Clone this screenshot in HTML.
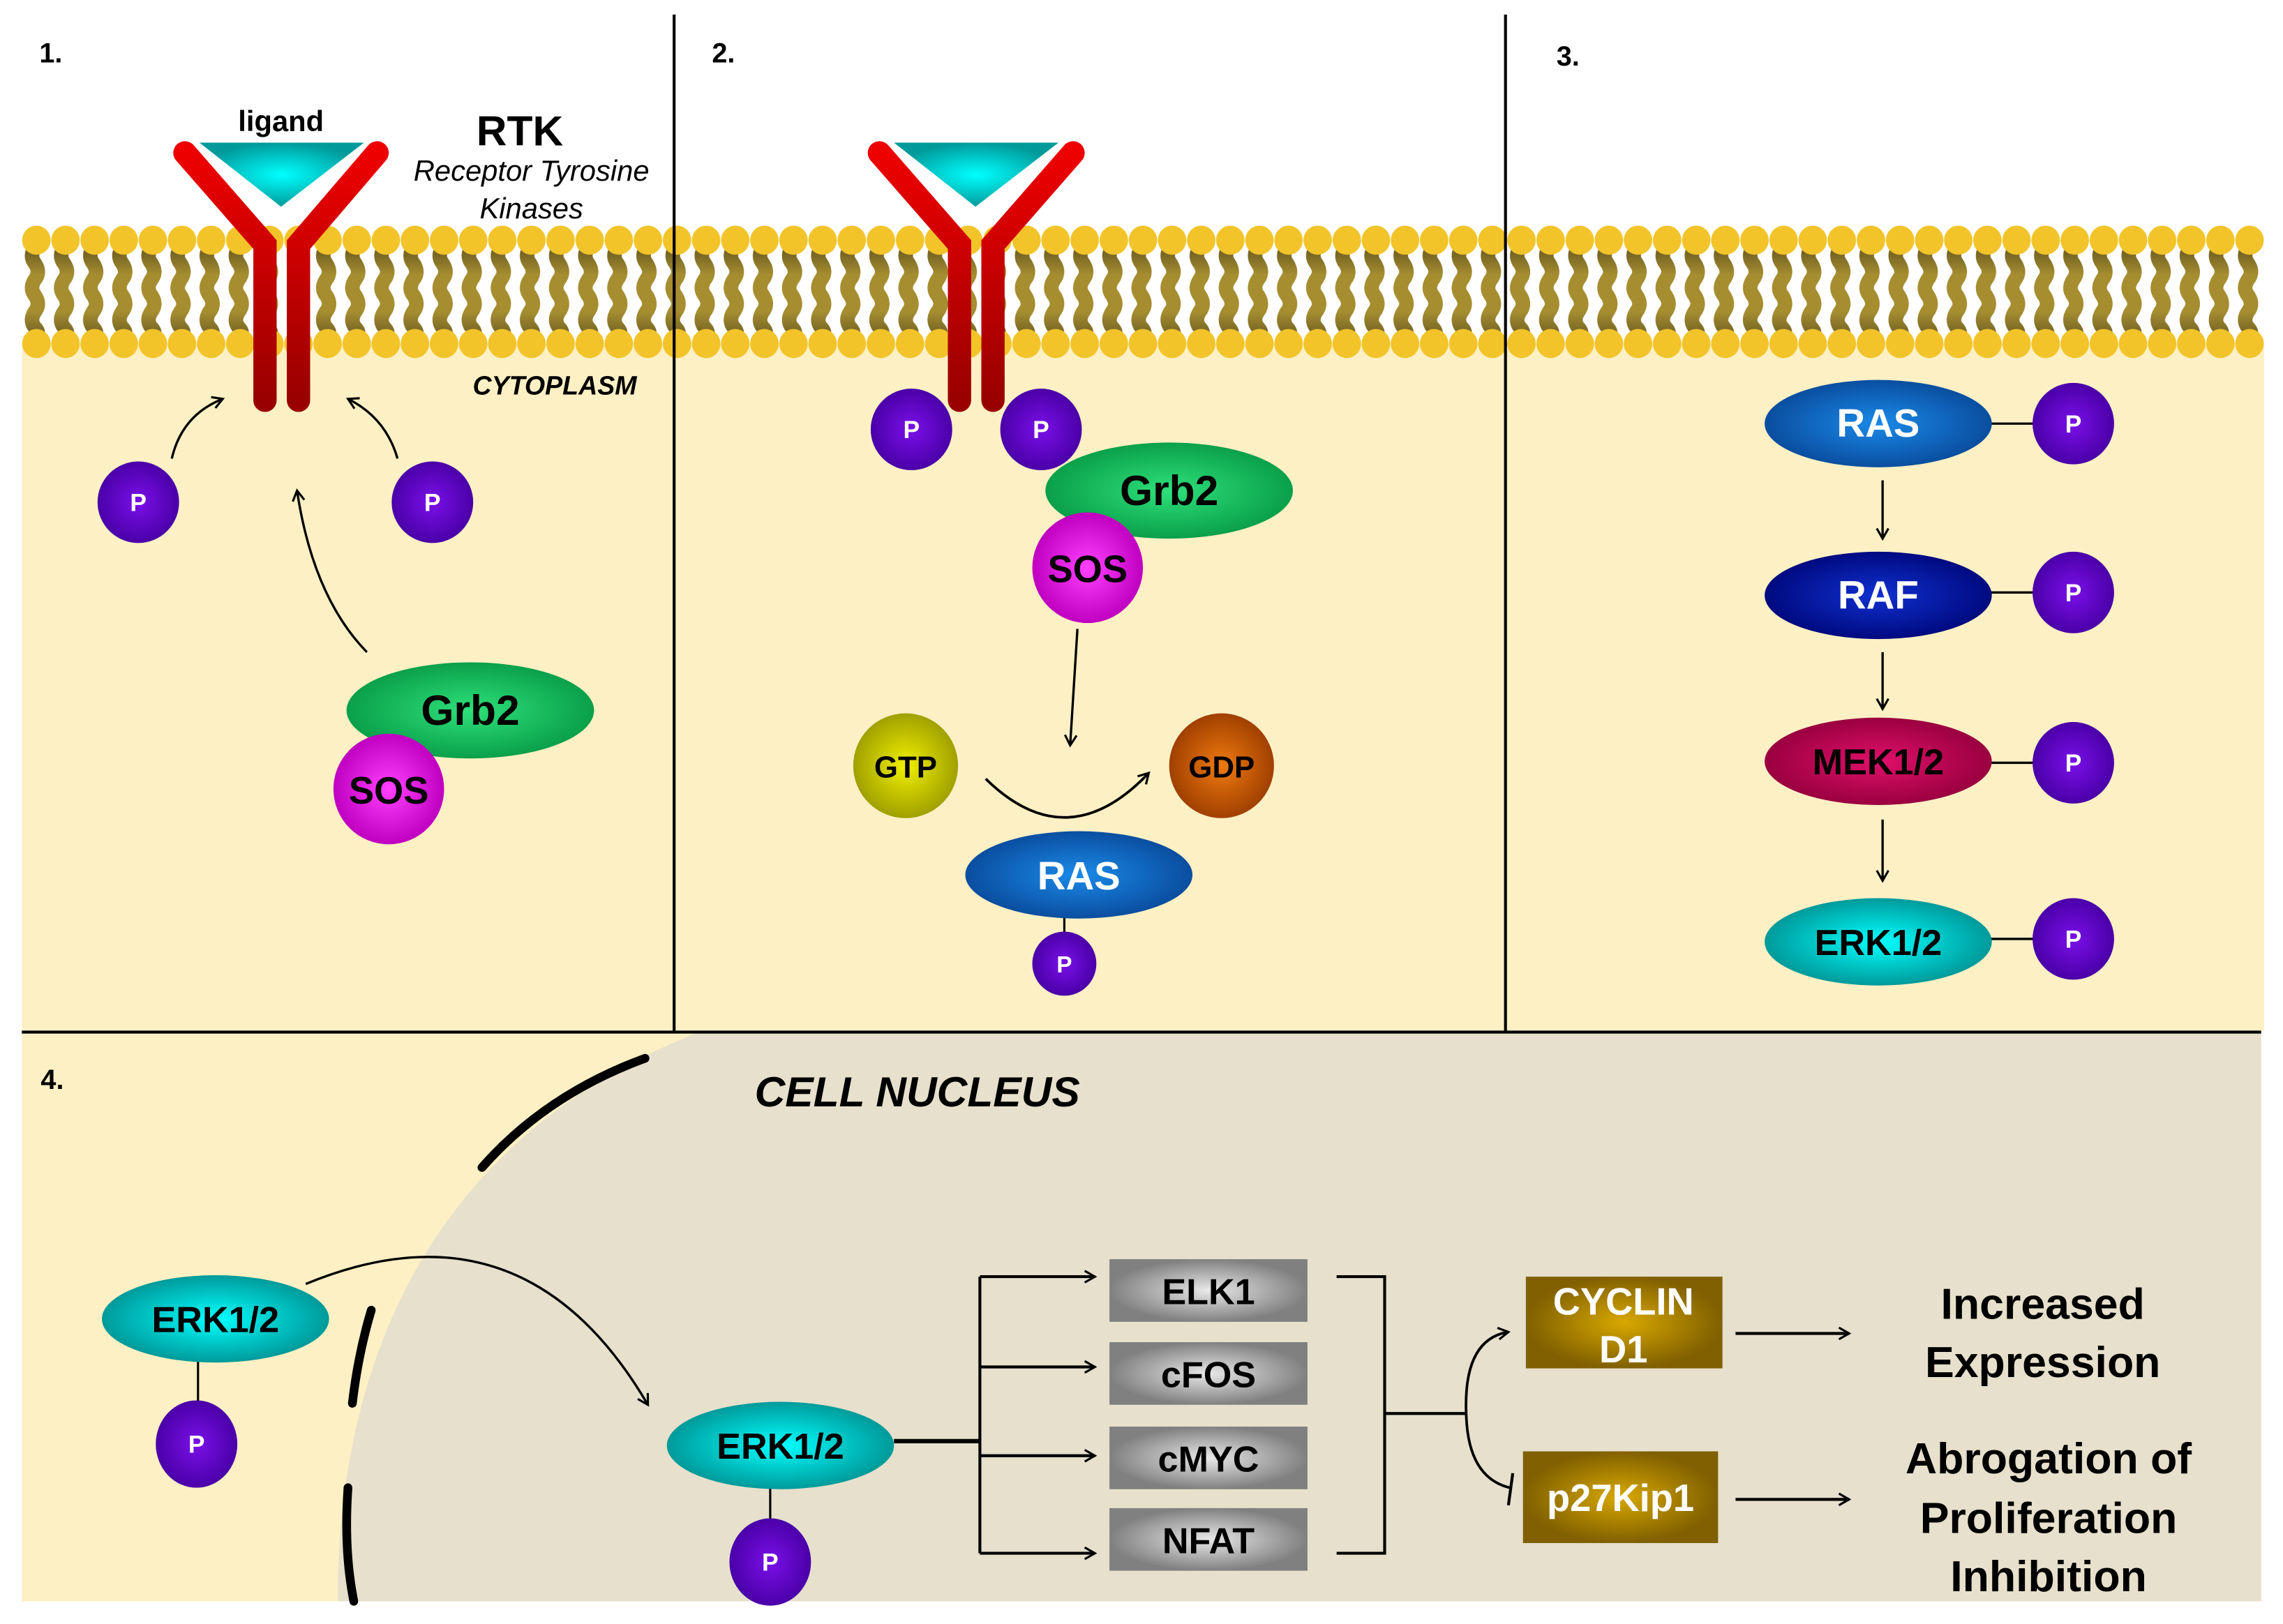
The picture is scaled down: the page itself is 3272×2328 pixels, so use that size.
<!DOCTYPE html>
<html><head><meta charset="utf-8"><style>html,body{margin:0;padding:0;background:#fff}svg{display:block}</style></head><body>
<svg xmlns="http://www.w3.org/2000/svg" width="3272" height="2328" viewBox="0 0 1568 1115.6" preserveAspectRatio="none" font-family="Liberation Sans, sans-serif">
<defs>
<radialGradient id="gP"><stop offset="0" stop-color="#7a10e8"/><stop offset="1" stop-color="#4a00a8"/></radialGradient>
<radialGradient id="gTeal"><stop offset="0" stop-color="#00ffff"/><stop offset="1" stop-color="#009a9a"/></radialGradient>
<radialGradient id="gGrn"><stop offset="0" stop-color="#2ee07a"/><stop offset="1" stop-color="#0aa04a"/></radialGradient>
<radialGradient id="gSos"><stop offset="0" stop-color="#ff40ff"/><stop offset="1" stop-color="#c000c0"/></radialGradient>
<radialGradient id="gBlue"><stop offset="0" stop-color="#1a8ae8"/><stop offset="1" stop-color="#0a4ea0"/></radialGradient>
<radialGradient id="gNavy"><stop offset="0" stop-color="#1030d0"/><stop offset="1" stop-color="#000a80"/></radialGradient>
<radialGradient id="gMek"><stop offset="0" stop-color="#e0106a"/><stop offset="1" stop-color="#9a0040"/></radialGradient>
<radialGradient id="gGtp"><stop offset="0" stop-color="#f0f000"/><stop offset="1" stop-color="#a0a000"/></radialGradient>
<radialGradient id="gGdp"><stop offset="0" stop-color="#f07a10"/><stop offset="1" stop-color="#a04000"/></radialGradient>
<radialGradient id="gGrey"><stop offset="0" stop-color="#e8e8e8"/><stop offset="1" stop-color="#808080"/></radialGradient>
<radialGradient id="gGold"><stop offset="0" stop-color="#d8a800"/><stop offset="1" stop-color="#806000"/></radialGradient>
<linearGradient id="gRed" x1="0" y1="0" x2="0" y2="1"><stop offset="0" stop-color="#ee0000"/><stop offset="1" stop-color="#990000"/></linearGradient>
<linearGradient id="gTail" x1="0" y1="0" x2="0" y2="1"><stop offset="0" stop-color="#6a5a20"/><stop offset="0.3" stop-color="#a58d30"/><stop offset="0.7" stop-color="#a58d30"/><stop offset="1" stop-color="#6a5a20"/></linearGradient>
<pattern id="mem" patternUnits="userSpaceOnUse" x="15" y="0" width="20" height="260">
<path d="M9 170 q-4 6 0 11 q4 6 0 11 q-4 6 0 11 q4 6 0 11 q-4 6 0 11 q4 4 0 8" fill="none" stroke="url(#gTail)" stroke-width="10"/>
<ellipse cx="10" cy="165" rx="9.8" ry="10" fill="#f2c42a"/>
<ellipse cx="10" cy="236" rx="9.8" ry="10" fill="#f2c42a"/>
</pattern>
<marker id="ar" markerWidth="10" markerHeight="10" refX="8" refY="5" orient="auto" markerUnits="userSpaceOnUse"><path d="M1 1 L8 5 L1 9" fill="none" stroke="#000" stroke-width="1.5"/></marker>
</defs>
<rect width="1568" height="1115.6" fill="#fff"/>
<rect x="15" y="236" width="1540" height="472" fill="#fdf0c4"/>
<rect x="15" y="709" width="1538" height="391" fill="#fdf0c4"/>
<path d="M480 709 C300 780 232 930 232 1100 L1553 1100 L1553 709 Z" fill="#e6e0cc"/>
<rect x="15" y="150" width="1540" height="100" fill="url(#mem)"/>
<line x1="463" y1="10" x2="463" y2="709" stroke="#000" stroke-width="2"/>
<line x1="1034" y1="10" x2="1034" y2="709" stroke="#000" stroke-width="2"/>
<line x1="15" y1="709" x2="1553" y2="709" stroke="#000" stroke-width="2"/>

<g font-weight="bold" font-size="19" fill="#000">
<text x="27" y="43">1.</text><text x="489" y="43">2.</text><text x="1069" y="45">3.</text><text x="28" y="748">4.</text>
</g>

<g stroke="url(#gRed)" stroke-width="16" stroke-linecap="round" fill="none">
<path d="M127 105 L182 168 L182 275"/><path d="M259 105 L205 168 L205 275"/>
</g>
<path d="M137 98 L250 98 L193 142 Z" fill="url(#gTeal)"/>
<text x="193" y="90" font-size="20" font-weight="bold" text-anchor="middle">ligand</text>
<text x="357" y="100" font-size="29" font-weight="bold" text-anchor="middle">RTK</text>
<text x="365" y="124" font-size="20" font-style="italic" text-anchor="middle">Receptor Tyrosine</text>
<text x="365" y="150" font-size="20" font-style="italic" text-anchor="middle">Kinases</text>
<text x="381" y="271" font-size="18" font-weight="bold" font-style="italic" text-anchor="middle">CYTOPLASM</text>
<g fill="none" stroke="#000" stroke-width="1.6" marker-end="url(#ar)">
<path d="M118 315 Q125 285 153 274"/><path d="M273 315 Q265 287 239 274"/><path d="M252 448 Q215 410 204 337"/>
</g>
<g font-weight="bold" fill="#fff" font-size="17" text-anchor="middle">
<circle cx="95" cy="345" r="28" fill="url(#gP)"/><text x="95" y="351">P</text>
<circle cx="297" cy="345" r="28" fill="url(#gP)"/><text x="297" y="351">P</text>
</g>
<ellipse cx="323" cy="488" rx="85" ry="33" fill="url(#gGrn)"/>
<text x="323" y="498" font-size="29" font-weight="bold" text-anchor="middle">Grb2</text>
<circle cx="267" cy="542" r="38" fill="url(#gSos)"/>
<text x="267" y="552" font-size="26" font-weight="bold" text-anchor="middle">SOS</text>

<g stroke="url(#gRed)" stroke-width="16" stroke-linecap="round" fill="none">
<path d="M604 105 L659 168 L659 275"/><path d="M737 105 L682 168 L682 275"/>
</g>
<path d="M614 98 L727 98 L670 142 Z" fill="url(#gTeal)"/>
<g font-weight="bold" fill="#fff" font-size="17" text-anchor="middle">
<circle cx="626" cy="295" r="28" fill="url(#gP)"/><text x="626" y="301">P</text>
<circle cx="715" cy="295" r="28" fill="url(#gP)"/><text x="715" y="301">P</text>
</g>
<ellipse cx="803" cy="337" rx="85" ry="33" fill="url(#gGrn)"/>
<text x="803" y="347" font-size="29" font-weight="bold" text-anchor="middle">Grb2</text>
<circle cx="747" cy="390" r="38" fill="url(#gSos)"/>
<text x="747" y="400" font-size="26" font-weight="bold" text-anchor="middle">SOS</text>
<path d="M740 432 L735 512" stroke="#000" stroke-width="1.6" fill="none" marker-end="url(#ar)"/>
<circle cx="622" cy="526" r="36" fill="url(#gGtp)"/>
<text x="622" y="534" font-size="21" font-weight="bold" text-anchor="middle">GTP</text>
<circle cx="839" cy="526" r="36" fill="url(#gGdp)"/>
<text x="839" y="534" font-size="21" font-weight="bold" text-anchor="middle">GDP</text>
<path d="M677 535 Q733 590 789 531" stroke="#000" stroke-width="1.8" fill="none" marker-end="url(#ar)"/>
<line x1="731" y1="620" x2="731" y2="645" stroke="#000" stroke-width="1.5"/>
<ellipse cx="741" cy="601" rx="78" ry="30" fill="url(#gBlue)"/>
<text x="741" y="611" font-size="27" font-weight="bold" fill="#fff" text-anchor="middle">RAS</text>
<circle cx="731" cy="662" r="22" fill="url(#gP)"/><text x="731" y="668" font-size="16" font-weight="bold" fill="#fff" text-anchor="middle">P</text>

<g stroke="#000" stroke-width="1.6">
<line x1="1360" y1="291" x2="1400" y2="291"/><line x1="1360" y1="407" x2="1400" y2="407"/>
<line x1="1360" y1="524" x2="1400" y2="524"/><line x1="1360" y1="645" x2="1400" y2="645"/>
</g>
<g stroke="#000" stroke-width="1.6" marker-end="url(#ar)">
<line x1="1293" y1="330" x2="1293" y2="370"/><line x1="1293" y1="448" x2="1293" y2="487"/><line x1="1293" y1="563" x2="1293" y2="605"/>
</g>
<g font-size="27" font-weight="bold" text-anchor="middle">
<ellipse cx="1290" cy="291" rx="78" ry="30" fill="url(#gBlue)"/><text x="1290" y="300" fill="#fff">RAS</text>
<ellipse cx="1290" cy="409" rx="78" ry="30" fill="url(#gNavy)"/><text x="1290" y="418" fill="#fff">RAF</text>
<ellipse cx="1290" cy="523" rx="78" ry="30" fill="url(#gMek)"/><text x="1290" y="532" fill="#000" font-size="25">MEK1/2</text>
<ellipse cx="1290" cy="647" rx="78" ry="30" fill="url(#gTeal)"/><text x="1290" y="656" fill="#000" font-size="25">ERK1/2</text>
</g>
<g font-weight="bold" fill="#fff" font-size="17" text-anchor="middle">
<circle cx="1424" cy="291" r="28" fill="url(#gP)"/><text x="1424" y="297">P</text>
<circle cx="1424" cy="407" r="28" fill="url(#gP)"/><text x="1424" y="413">P</text>
<circle cx="1424" cy="524" r="28" fill="url(#gP)"/><text x="1424" y="530">P</text>
<circle cx="1424" cy="645" r="28" fill="url(#gP)"/><text x="1424" y="651">P</text>
</g>

<g fill="none" stroke="#000" stroke-width="6" stroke-linecap="round">
<path d="M331 802 Q375 752 443 727"/><path d="M255 900 Q246 930 242 964"/><path d="M239 1022 Q236 1065 243 1100"/>
</g>
<text x="630" y="760" font-size="29" font-weight="bold" font-style="italic" text-anchor="middle">CELL NUCLEUS</text>
<line x1="136" y1="930" x2="136" y2="970" stroke="#000" stroke-width="1.5"/>
<ellipse cx="148" cy="906" rx="78" ry="30" fill="url(#gTeal)"/>
<text x="148" y="915" font-size="25" font-weight="bold" text-anchor="middle">ERK1/2</text>
<ellipse cx="135" cy="992" rx="28" ry="30" fill="url(#gP)"/><text x="135" y="998" font-size="17" font-weight="bold" fill="#fff" text-anchor="middle">P</text>
<path d="M210 882 Q360 820 445 965" fill="none" stroke="#000" stroke-width="1.6" marker-end="url(#ar)"/>
<line x1="529" y1="1015" x2="529" y2="1050" stroke="#000" stroke-width="1.5"/>
<ellipse cx="536" cy="993" rx="78" ry="30" fill="url(#gTeal)"/>
<text x="536" y="1002" font-size="25" font-weight="bold" text-anchor="middle">ERK1/2</text>
<ellipse cx="529" cy="1073" rx="28" ry="30" fill="url(#gP)"/><text x="529" y="1079" font-size="17" font-weight="bold" fill="#fff" text-anchor="middle">P</text>
<line x1="614" y1="990" x2="673" y2="990" stroke="#000" stroke-width="3"/>
<line x1="673" y1="877" x2="673" y2="1067" stroke="#000" stroke-width="2"/>
<g stroke="#000" stroke-width="2" marker-end="url(#ar)">
<line x1="673" y1="877" x2="752" y2="877"/><line x1="673" y1="939" x2="752" y2="939"/><line x1="673" y1="1000" x2="752" y2="1000"/><line x1="673" y1="1067" x2="752" y2="1067"/>
</g>
<g font-size="25" font-weight="bold" text-anchor="middle">
<rect x="762" y="865" width="136" height="43" fill="url(#gGrey)"/><text x="830" y="896">ELK1</text>
<rect x="762" y="922" width="136" height="43" fill="url(#gGrey)"/><text x="830" y="953">cFOS</text>
<rect x="762" y="980" width="136" height="43" fill="url(#gGrey)"/><text x="830" y="1011">cMYC</text>
<rect x="762" y="1036" width="136" height="43" fill="url(#gGrey)"/><text x="830" y="1067">NFAT</text>
</g>
<path d="M918 877 L951 877 L951 1067 L918 1067" fill="none" stroke="#000" stroke-width="2"/>
<line x1="951" y1="971" x2="1007" y2="971" stroke="#000" stroke-width="2"/>
<path d="M1007 971 Q1005 920 1036 915" fill="none" stroke="#000" stroke-width="1.8" marker-end="url(#ar)"/>
<path d="M1007 971 Q1008 1015 1037 1022" fill="none" stroke="#000" stroke-width="1.8"/>
<line x1="1039" y1="1012" x2="1036" y2="1034" stroke="#000" stroke-width="2"/>
<rect x="1048" y="877" width="135" height="63" fill="url(#gGold)"/>
<text x="1115" y="903" font-size="26" font-weight="bold" fill="#fff" text-anchor="middle">CYCLIN</text>
<text x="1115" y="936" font-size="26" font-weight="bold" fill="#fff" text-anchor="middle">D1</text>
<rect x="1046" y="997" width="134" height="63" fill="url(#gGold)"/>
<text x="1113" y="1038" font-size="26" font-weight="bold" fill="#fff" text-anchor="middle">p27Kip1</text>
<g stroke="#000" stroke-width="2" marker-end="url(#ar)">
<line x1="1192" y1="916" x2="1270" y2="916"/><line x1="1192" y1="1030" x2="1270" y2="1030"/>
</g>
<g font-size="30" font-weight="bold" text-anchor="middle">
<text x="1403" y="906">Increased</text><text x="1403" y="946">Expression</text>
<text x="1407" y="1012">Abrogation of</text><text x="1407" y="1053">Proliferation</text><text x="1407" y="1093">Inhibition</text>
</g>
</svg>
</body></html>
